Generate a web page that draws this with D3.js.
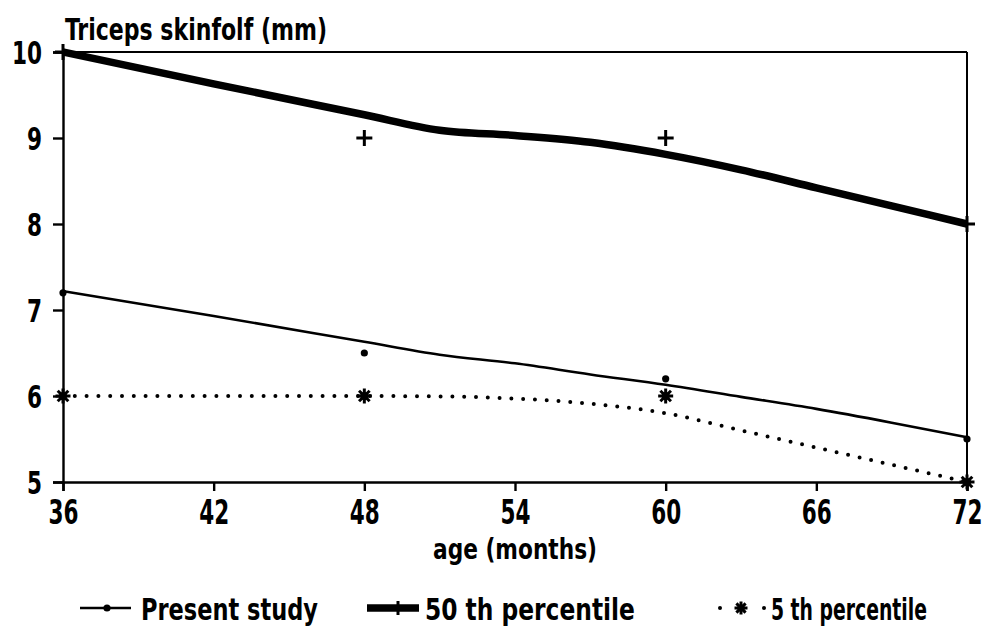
<!DOCTYPE html>
<html>
<head>
<meta charset="utf-8">
<script src="https://cdn.jsdelivr.net/npm/d3@7"></script>
<style>
  html, body { margin: 0; padding: 0; background: #fff; }
  svg { display: block; }
  text { font-family: "Liberation Sans Narrow", "DejaVu Sans Condensed", "Liberation Sans", sans-serif; fill: #000; }
</style>
</head>
<body>
<svg id="chart" width="995" height="635"></svg>
<script>
// ---- data ----
const obsAges      = [36, 48, 60, 72];
const presentObs   = [7.2, 6.5, 6.2, 5.5];
const p50Obs       = [10, 9, 9, 8];
const p5Obs        = [6, 6, 6, 5];

const fitAges      = [36, 42, 48, 51, 54, 57, 60, 63, 66, 69, 72];
const presentFit   = [7.22, 6.93, 6.63, 6.48, 6.38, 6.25, 6.13, 5.99, 5.85, 5.69, 5.52];
const p50Fit       = [10.0, 9.63, 9.27, 9.09, 9.03, 8.95, 8.81, 8.63, 8.42, 8.21, 8.0];
const p5Fit        = [6.0, 6.0, 6.0, 5.995, 5.97, 5.91, 5.8, 5.6, 5.4, 5.2, 5.0];

const xTicks       = [36, 42, 48, 54, 60, 66, 72];
const yTicks       = [5, 6, 7, 8, 9, 10];
const yTitle       = "Triceps skinfolf (mm)";
const xTitle       = "age (months)";
const legendLabels = ["Present study", "50 th percentile", "5 th percentile"];

// ---- layout ----
const svg = d3.select("#chart");
const L = 63, R = 967, T = 52, B = 482;
const x = d3.scaleLinear().domain([36, 72]).range([L, R]);
const y = d3.scaleLinear().domain([5, 10]).range([B, T]);

// frame: top and right borders
svg.append("line").attr("x1", L).attr("x2", R).attr("y1", T).attr("y2", T)
  .attr("stroke", "#000").attr("stroke-width", 2);
svg.append("line").attr("x1", R).attr("x2", R).attr("y1", T).attr("y2", B)
  .attr("stroke", "#000").attr("stroke-width", 2);

// axes
const yAxis = svg.append("g").attr("transform", `translate(${L},0)`)
  .call(d3.axisLeft(y).tickValues(yTicks).tickFormat(d3.format("d")).tickSize(10).tickPadding(11));
const xAxis = svg.append("g").attr("transform", `translate(0,${B})`)
  .call(d3.axisBottom(x).tickValues(xTicks).tickFormat(d3.format("d")).tickSize(9).tickPadding(10));

[yAxis, xAxis].forEach(g => {
  g.select(".domain").attr("stroke", "#000").attr("stroke-width", 2.4);
  g.selectAll(".tick line").attr("stroke", "#000").attr("stroke-width", 2.4);
  g.selectAll(".tick text").attr("fill", "#000").style("font-weight", "bold")
    .attr("lengthAdjust", "spacingAndGlyphs")
    .each(function(d) { d3.select(this).attr("textLength", String(d).length * 15); });
});
yAxis.selectAll(".tick text").style("font-size", "32px").attr("dy", "0.36em");
xAxis.selectAll(".tick text").style("font-size", "33px").attr("dy", "0.7em");

// lines
const mk = (ages, vals) => ages.map((a, i) => ({ a, v: vals[i] }));
const lineGen = d3.line().x(d => x(d.a)).y(d => y(d.v)).curve(d3.curveMonotoneX);

svg.append("path").datum(mk(fitAges, p5Fit)).attr("d", lineGen)
  .attr("fill", "none").attr("stroke", "#000").attr("stroke-width", 4)
  .attr("stroke-linecap", "round").attr("stroke-dasharray", "0 11.8");

svg.append("path").datum(mk(fitAges, presentFit)).attr("d", lineGen)
  .attr("fill", "none").attr("stroke", "#000").attr("stroke-width", 2.6);

svg.append("path").datum(mk(fitAges, p50Fit)).attr("d", lineGen)
  .attr("fill", "none").attr("stroke", "#000").attr("stroke-width", 7.5)
  .attr("stroke-linejoin", "round");

// marker helpers
function plus(g, cx, cy, s, w) {
  g.append("line").attr("x1", cx - s).attr("x2", cx + s).attr("y1", cy).attr("y2", cy)
    .attr("stroke", "#000").attr("stroke-width", w);
  g.append("line").attr("x1", cx).attr("x2", cx).attr("y1", cy - s).attr("y2", cy + s)
    .attr("stroke", "#000").attr("stroke-width", w);
}
function star(g, cx, cy, s, w) {
  [0, 45, 90, 135].forEach(a => {
    const r = a * Math.PI / 180;
    g.append("line")
      .attr("x1", cx - s * Math.cos(r)).attr("y1", cy - s * Math.sin(r))
      .attr("x2", cx + s * Math.cos(r)).attr("y2", cy + s * Math.sin(r))
      .attr("stroke", "#000").attr("stroke-width", w);
  });
  g.append("circle").attr("cx", cx).attr("cy", cy).attr("r", s * 0.55).attr("fill", "#000");
}

const mg = svg.append("g");
mk(obsAges, presentObs).forEach(d =>
  mg.append("circle").attr("cx", x(d.a)).attr("cy", y(d.v)).attr("r", 3.6).attr("fill", "#000"));
mk(obsAges, p50Obs).forEach(d => plus(mg, x(d.a), y(d.v), 8, 3));
mk(obsAges, p5Obs).forEach(d => star(mg, x(d.a), y(d.v), 7.5, 3));

// titles
svg.append("text").attr("x", 65).attr("y", 40).text(yTitle)
  .style("font-size", "30px").style("font-weight", "bold")
  .attr("textLength", 262).attr("lengthAdjust", "spacingAndGlyphs");
svg.append("text").attr("x", 515).attr("y", 559).attr("text-anchor", "middle").text(xTitle)
  .style("font-size", "28px").style("font-weight", "bold")
  .attr("textLength", 164).attr("lengthAdjust", "spacingAndGlyphs");

// legend
const ly = 608;
const lg = svg.append("g");
// present study
lg.append("line").attr("x1", 80).attr("x2", 131).attr("y1", ly).attr("y2", ly)
  .attr("stroke", "#000").attr("stroke-width", 2.6);
lg.append("circle").attr("cx", 107).attr("cy", ly).attr("r", 3.6).attr("fill", "#000");
// 50th
lg.append("line").attr("x1", 367).attr("x2", 419).attr("y1", ly).attr("y2", ly)
  .attr("stroke", "#000").attr("stroke-width", 7.5);
plus(lg, 398, ly, 7, 3);
// 5th
lg.append("circle").attr("cx", 720).attr("cy", ly).attr("r", 2).attr("fill", "#000");
lg.append("circle").attr("cx", 764).attr("cy", ly).attr("r", 2).attr("fill", "#000");
star(lg, 741, ly, 6.5, 3);

const legX = [141, 425, 771];
const legW = [177, 210, 156];
legendLabels.forEach((t, i) => {
  const tx = lg.append("text").attr("x", 0).attr("y", 0).text(t)
    .style("font-size", "31px").style("font-weight", "bold");
  const nat = tx.node().getComputedTextLength() || legW[i];
  tx.attr("transform", `translate(${legX[i]},620) scale(${legW[i] / nat},1)`);
});
</script>
</body>
</html>
